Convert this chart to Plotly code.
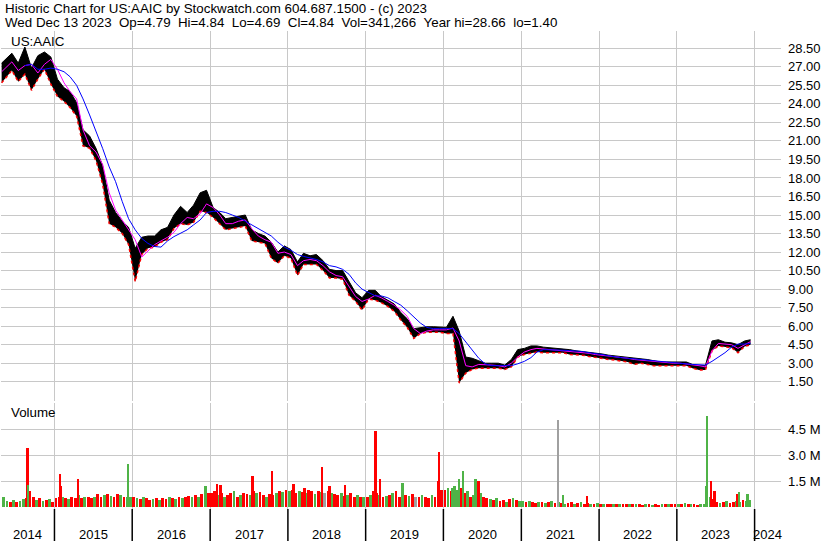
"""Stockwatch style historic chart for US:AAIC, rebuilt with plotly."""
import pandas as pd
import plotly.graph_objects as go

W, H = 830, 543
FONT = "Liberation Sans, Arial, sans-serif"
GRID = "#c8c8c8"
RED, GREEN, GRAY = "#ff0000", "#4fb347", "#a0a0a0"

# ---- price, local high/low envelope of the daily bars, one value per month (May 2014 .. Dec 2023) ----
price_high = [
    27.3, 28.1, 27.3, 28.6, 26.9, 27.9, 28.2, 27.8,                          # 2014
    26.0, 25.3, 25.0, 24.1, 21.9, 21.4, 20.4, 19.0, 16.2, 15.2, 14.5, 14.0,  # 2015
    12.3, 13.2, 13.3, 13.3, 13.8, 14.0, 15.0, 15.7, 15.2, 15.8, 16.8, 17.0,  # 2016
    15.6, 15.2, 14.7, 14.8, 14.9, 15.0, 13.8, 13.5, 13.3, 12.8, 12.0, 12.5,  # 2017
    12.2, 11.2, 11.9, 11.7, 11.8, 11.3, 10.6, 10.5, 10.5, 9.6, 8.7, 8.3,     # 2018
    8.9, 8.9, 8.4, 8.1, 7.8, 7.1, 6.6, 5.8, 5.9, 5.95, 5.95, 5.95,           # 2019
    5.9, 6.8, 5.6, 3.5, 3.4, 3.2, 3.0, 3.0, 3.0, 2.85, 3.3, 4.1,             # 2020
    4.2, 4.4, 4.4, 4.3, 4.25, 4.25, 4.15, 4.1, 4.0, 3.95, 3.9, 3.85,         # 2021
    3.75, 3.65, 3.6, 3.55, 3.5, 3.45, 3.4, 3.3, 3.2, 3.1, 3.1, 3.1,          # 2022
    3.1, 3.1, 2.9, 2.8, 2.8, 4.8, 4.9, 4.7, 4.65, 4.5, 4.8, 4.9,             # 2023
]
price_low = [
    25.7, 26.7, 25.8, 26.4, 25.1, 26.0, 26.8, 25.6,
    24.6, 24.2, 23.7, 23.0, 20.6, 20.4, 19.4, 17.5, 14.3, 14.0, 13.5, 12.6,
    9.6, 11.8, 12.3, 12.4, 12.8, 13.0, 13.9, 14.3, 14.2, 14.4, 15.3, 15.2,
    14.8, 14.3, 13.8, 13.9, 14.0, 14.1, 12.9, 12.8, 12.7, 11.5, 11.1, 11.7,
    11.5, 10.1, 11.0, 11.0, 11.0, 10.5, 9.9, 9.9, 9.8, 8.5, 8.0, 7.3,
    8.2, 8.1, 7.9, 7.6, 7.2, 6.5, 5.9, 5.0, 5.4, 5.5, 5.5, 5.5,
    5.4, 5.4, 1.4, 2.2, 2.5, 2.6, 2.6, 2.6, 2.6, 2.5, 2.7, 3.5,
    3.7, 3.8, 3.9, 3.85, 3.85, 3.9, 3.85, 3.7, 3.7, 3.65, 3.55, 3.45,
    3.35, 3.3, 3.25, 3.2, 3.1, 2.9, 3.0, 2.9, 2.8, 2.8, 2.8, 2.8,
    2.8, 2.8, 2.6, 2.45, 2.45, 4.0, 4.4, 4.3, 4.25, 3.85, 4.35, 4.5,
]
ma_fast = [
    26.6, 27.4, 26.7, 27.1, 27.2, 26.5, 27.2, 27.6,
    26.8, 25.7, 25.0, 24.4, 21.9, 20.6, 20.1, 19.1, 16.8, 15.4, 14.6, 13.8,
    13.0, 11.6, 12.1, 12.6, 12.9, 13.2, 13.6, 14.3, 14.8, 14.7, 15.1, 15.9,
    15.6, 15.0, 14.3, 14.3, 14.5, 14.6, 13.9, 13.3, 13.0, 12.8, 11.9, 12.0,
    11.8, 10.9, 11.3, 11.4, 11.3, 10.9, 10.4, 10.1, 10.0, 9.2, 8.4, 8.0,
    8.2, 8.5, 8.3, 8.0, 7.7, 7.3, 6.8, 5.8, 5.4, 5.6, 5.7, 5.7,
    5.7, 5.85, 4.8, 2.8, 2.7, 2.9, 2.9, 2.85, 2.8, 2.7, 3.0, 3.5,
    3.9, 4.1, 4.2, 4.15, 4.1, 4.1, 4.05, 4.0, 3.95, 3.9, 3.8, 3.7,
    3.65, 3.6, 3.5, 3.45, 3.4, 3.3, 3.25, 3.2, 3.15, 3.1, 3.0, 3.0,
    3.0, 2.95, 2.85, 2.8, 2.7, 4.0, 4.6, 4.55, 4.5, 4.2, 4.5, 4.75,
]
ma_slow = [
    None, None, None, 27.1, 27.2, 26.8, 26.8, 26.9,
    26.8, 26.6, 26.2, 25.5, 24.4, 23.1, 21.8, 20.4, 18.9, 17.7, 16.1, 14.7,
    13.8, 13.1, 12.7, 12.45, 12.4, 12.9, 13.25, 13.5, 13.8, 14.2, 14.6, 15.2,
    15.3, 15.3, 15.2, 15.0, 14.8, 14.5, 14.2, 13.9, 13.6, 13.3, 12.8, 12.4,
    12.15, 11.8, 11.65, 11.55, 11.4, 11.2, 10.9, 10.8, 10.6, 10.2, 9.5, 9.0,
    8.7, 8.45, 8.45, 8.3, 8.0, 7.7, 7.25, 6.75, 6.25, 5.9, 5.8, 5.8,
    5.8, 5.8, 5.4, 4.75, 4.05, 3.4, 2.95, 2.8, 2.8, 2.8, 2.8, 2.95,
    3.15, 3.45, 3.9, 4.1, 4.1, 4.1, 4.05, 4.02, 4.0, 3.95, 3.85, 3.8,
    3.7, 3.6, 3.5, 3.45, 3.4, 3.35, 3.3, 3.25, 3.2, 3.15, 3.05, 3.0,
    3.0, 2.95, 2.9, 2.88, 2.85, 3.15, 3.5, 3.85, 4.3, 4.55, 4.55, 4.6,
]

# ---- volume (millions), two values per month, colour codes r/g/k ----
vol_2014 = [0.55, 0.35, 0.3, 0.4, 0.3, 0.35, 0.45, 0.5, 0.9, 0.6, 0.4, 0.5, 0.35, 0.4, 0.45, 0.3]
vol_2015 = [0.5, 0.6, 0.6, 0.5, 0.45, 0.6, 0.5, 0.7, 0.5, 0.6, 0.55, 0.5,
            0.6, 0.75, 0.6, 0.7, 0.75, 0.65, 0.6, 0.75, 0.7, 0.6, 0.55, 0.6]
vol_2016 = [0.6, 0.5, 0.45, 0.55, 0.5, 0.4, 0.45, 0.5, 0.4, 0.5, 0.45, 0.55,
            0.5, 0.45, 0.6, 0.5, 0.55, 0.65, 0.6, 0.7, 0.6, 0.75, 0.9, 0.8]
vol_2017 = [0.8, 0.9, 0.7, 0.8, 0.6, 0.7, 0.8, 0.9, 0.6, 0.7, 0.8, 0.75,
            0.7, 0.9, 0.8, 0.85, 0.7, 0.6, 0.75, 0.7, 0.8, 0.9, 0.85, 1.0]
vol_2018 = [0.9, 1.0, 0.8, 0.9, 0.85, 0.8, 1.0, 0.9, 0.75, 0.9, 0.85, 0.8,
            0.9, 0.8, 0.75, 0.7, 0.8, 0.65, 0.7, 0.8, 0.6, 0.7, 0.55, 0.6]
vol_2019 = [0.6, 0.7, 0.9, 0.8, 0.7, 0.6, 0.65, 0.7, 0.8, 0.9, 0.6, 0.75,
            0.7, 0.65, 0.75, 0.6, 0.55, 0.7, 0.6, 0.5, 0.7, 0.6, 0.9, 1.0]
vol_2020 = [1.0, 1.1, 0.9, 1.2, 1.0, 1.1, 0.8, 0.9, 0.6, 0.7, 0.9, 0.8,
            0.55, 0.5, 0.45, 0.4, 0.5, 0.35, 0.4, 0.3, 0.45, 0.5, 0.4, 0.35]
vol_2021 = [0.35, 0.3, 0.35, 0.3, 0.25, 0.3, 0.3, 0.25, 0.3, 0.35, 0.25, 0.3,
            0.25, 0.2, 0.25, 0.3, 0.2, 0.25, 0.3, 0.2, 0.25, 0.2, 0.2, 0.25]
vol_2022 = [0.2, 0.15, 0.2, 0.15, 0.2, 0.18, 0.15, 0.2, 0.15, 0.18, 0.2, 0.15,
            0.15, 0.12, 0.15, 0.18, 0.12, 0.15, 0.12, 0.15, 0.2, 0.15, 0.18, 0.15]
vol_2023 = [0.15, 0.2, 0.25, 0.2, 0.2, 0.15, 0.12, 0.15, 0.2, 0.5, 0.6, 0.45,
            0.3, 0.25, 0.3, 0.35, 0.25, 0.3, 0.35, 0.3, 0.4, 0.35, 0.4]
col_2014 = "ggrgrggrrrgrgrgr"
col_2015 = "rrgrgrrgrgrrgrrgrgrrgrgg"
col_2016 = "rgrgrrgrgrrgrgrgrrgrgrgr"
col_2017 = "rrgrgrrgrgrrgrgrrgrrgrgr"
col_2018 = "grrgrgrrgrgkrgrrgrgrrgrg"
col_2019 = "rgrrgrgrgrrgrgrkrgrrgrrr"
col_2020 = "rgrggrrgrgggrrgrgrrgrgrg"
col_2021 = "grgrrgrgrgrgrgrrgrgrrgrg"
col_2022 = "rgrrgrgrrgrgrrgrgrrgrgrr"
col_2023 = "grgrgrrggggrrgrgrrggrgg"

# single-day volume spikes
spike_dates = ["2014-08-29", "2014-09-01", "2015-01-27", "2015-02-02", "2015-04-21",
               "2015-12-13", "2016-12-11", "2017-02-03", "2017-02-20", "2017-07-20",
               "2017-10-21", "2018-01-28", "2018-03-21", "2018-06-12", "2018-07-16",
               "2018-09-28", "2019-02-17", "2019-03-12", "2019-06-24", "2019-12-06",
               "2019-12-14", "2020-02-14", "2020-03-17", "2020-04-05", "2020-06-01",
               "2020-06-15", "2021-06-23", "2021-07-18", "2021-11-07", "2023-05-19",
               "2023-05-23", "2023-06-13", "2023-06-28", "2023-10-14", "2023-10-21",
               "2023-11-30"]
spike_vol = [3.4, 1.3, 1.9, 1.2, 1.6, 2.5, 1.2, 1.35, 1.3, 1.8, 2.1, 1.35, 1.1, 2.34,
             1.2, 1.25, 4.37, 1.6, 1.4, 1.5, 3.2, 1.1, 1.6, 2.1, 1.6, 1.5, 5.03, 0.7,
             0.63, 1.2, 5.28, 1.5, 0.9, 0.73, 0.85, 0.73]
spike_col = "rgrrrgg" + "rrrrrrrrrrr" + "g" + "rr" + "gggg" + "r" + "kgr" + "ggrrrgg"

price_ticks = [1.5 * i for i in range(1, 20)]
vol_ticks = [1.5, 3.0, 4.5]
vol_labels = ["1.5 M", "3.0 M", "4.5 M"]
years = list(range(2014, 2025))

header_1 = "Historic Chart for US:AAIC by Stockwatch.com 604.687.1500 - (c) 2023"
header_2 = ("Wed Dec 13 2023  Op=4.79  Hi=4.84  Lo=4.69  Cl=4.84  "
            "Vol=341,266  Year hi=28.66  lo=1.40").replace("  ", "\u00a0\u00a0")


def px(x):
    return x / W


def py(y):
    return 1 - y / H


months = list(pd.date_range("2014-05-01", "2023-12-01", freq="MS") + pd.Timedelta(days=14))
months[0] = pd.Timestamp("2014-04-28")
months[-1] = pd.Timestamp("2023-12-13")

half_months = []
for m in pd.date_range("2014-05-01", "2023-12-01", freq="MS"):
    half_months += [m + pd.Timedelta(days=7), m + pd.Timedelta(days=22)]
half_months = half_months[:-1]
volume = vol_2014 + vol_2015 + vol_2016 + vol_2017 + vol_2018 + vol_2019 + vol_2020 + vol_2021 + vol_2022 + vol_2023
codes = col_2014 + col_2015 + col_2016 + col_2017 + col_2018 + col_2019 + col_2020 + col_2021 + col_2022 + col_2023
cmap = {"r": RED, "g": GREEN, "k": GRAY}
DAY = 86400000

fig = go.Figure()
# daily bars are too dense to show one by one: draw their high-low envelope as a black band
fig.add_trace(go.Scatter(x=months, y=price_high, mode="lines", line=dict(color="black", width=1),
                         hoverinfo="skip", showlegend=False))
fig.add_trace(go.Scatter(x=months, y=price_low, mode="lines", line=dict(color=RED, width=1.5, dash="dot"),
                         fill="tonexty", fillcolor="black", hoverinfo="skip", showlegend=False))
fig.add_trace(go.Scatter(x=months, y=ma_fast, mode="lines", line=dict(color="#ff00ff", width=1),
                         showlegend=False))
fig.add_trace(go.Scatter(x=months, y=ma_slow, mode="lines", line=dict(color="#0000ff", width=1),
                         showlegend=False))
fig.add_trace(go.Bar(x=half_months, y=volume, width=13 * DAY, marker=dict(color=[cmap[c] for c in codes], line_width=0),
                     xaxis="x2", yaxis="y2", showlegend=False))
fig.add_trace(go.Bar(x=spike_dates, y=spike_vol, width=8 * DAY,
                     marker=dict(color=[cmap[c] for c in spike_col], line_width=0),
                     xaxis="x2", yaxis="y2", showlegend=False))

year_starts = [f"{y}-01-01" for y in years[1:]]
x_range = ["2014-04-25", "2024-05-04"]
xaxis_style = dict(type="date", range=x_range, domain=[px(1), px(781)], tickvals=year_starts,
                   showticklabels=False, ticks="", showgrid=True, gridcolor=GRID, gridwidth=1,
                   zeroline=False, showline=False)
tick_font = dict(family=FONT, size=13, color="black")

fig.update_layout(
    width=W, height=H, margin=dict(l=0, r=0, t=0, b=0),
    paper_bgcolor="white", plot_bgcolor="white", barmode="overlay", bargap=0,
    showlegend=False,
    xaxis=dict(anchor="y", **xaxis_style),
    xaxis2=dict(anchor="y2", matches="x", **xaxis_style),
    yaxis=dict(domain=[py(400.5), py(31)], range=[-0.02, 29.9], side="right",
               tickvals=price_ticks, ticktext=[f"{v:.2f}" for v in price_ticks],
               showgrid=True, gridcolor=GRID, zeroline=False, ticks="",
               ticklabelstandoff=6, tickfont=tick_font),
    yaxis2=dict(domain=[py(509), py(403)], range=[-0.116, 6.01], side="right",
                tickvals=vol_ticks, ticktext=vol_labels,
                showgrid=True, gridcolor=GRID, zeroline=False, ticks="",
                ticklabelstandoff=6, tickfont=tick_font),
)

# frame lines of the chart
line_k = dict(color="black", width=2)
shapes = [
    dict(type="rect", x0=px(0.5), x1=px(828.5), y0=py(0.5), y1=py(541.5), line=line_k),
    dict(type="line", x0=0, x1=1, y0=py(30.5), y1=py(30.5), line=line_k),
    dict(type="line", x0=px(781.5), x1=px(781.5), y0=py(31), y1=py(541), line=line_k),
    dict(type="line", x0=0, x1=1, y0=py(401), y1=py(401), line=dict(color="black", width=1)),
    dict(type="line", x0=0, x1=1, y0=py(403.5), y1=py(403.5), line=dict(color="black", width=1)),
    dict(type="line", x0=0, x1=px(781), y0=py(509), y1=py(509), line=line_k),
    dict(type="line", x0=0, x1=px(781), y0=py(526.5), y1=py(526.5), line=line_k),
]
for d in year_starts:
    shapes.append(dict(type="line", xref="x", yref="paper", x0=d, x1=d, y0=py(509), y1=py(541),
                       line=dict(color="black", width=1.5)))
fig.update_layout(shapes=shapes)

notes = [
    dict(x=px(3), y=py(8.5), text=header_1),
    dict(x=px(3), y=py(22.5), text=header_2),
    dict(x=px(9), y=py(41), text="US:AAIC"),
    dict(x=px(9), y=py(413), text="Volume"),
]
for n in notes:
    fig.add_annotation(xref="paper", yref="paper", xanchor="left", yanchor="middle", showarrow=False,
                       font=dict(family=FONT, size=13.35, color="black"), **n)

# year labels centred in the visible part of each year
edges = [pd.Timestamp(x_range[0])] + [pd.Timestamp(d) for d in year_starts] + [pd.Timestamp(x_range[1])]
for y, a, b in zip(years, edges[:-1], edges[1:]):
    fig.add_annotation(xref="x", yref="paper", x=a + (b - a) / 2, y=py(534), text=str(y),
                       showarrow=False, yanchor="middle", font=dict(family=FONT, size=13, color="black"))

# the page body has a default margin; drop it so the figure sits at the window's corner
fig.write_html("out.html", config={"displayModeBar": False},
               post_script="document.body.style.margin='0';")
